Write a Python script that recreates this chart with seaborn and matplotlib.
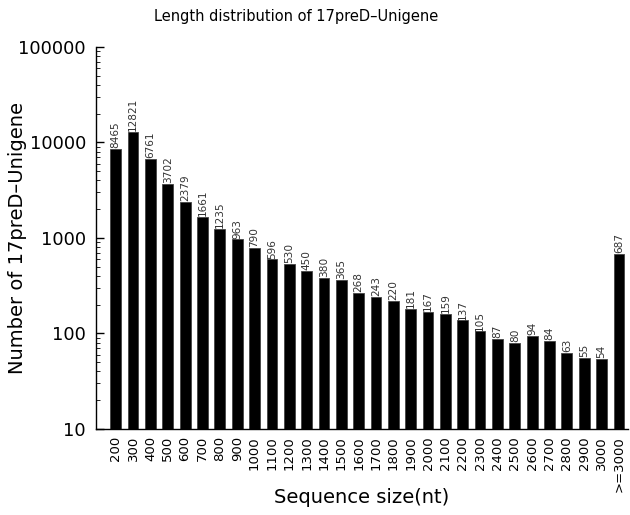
import matplotlib
matplotlib.use("Agg")
import matplotlib.pyplot as plt
import seaborn as sns
import pandas as pd
import numpy as np
from matplotlib.ticker import LogLocator, NullFormatter, FixedLocator

categories = [str(v) for v in range(200, 3001, 100)] + [">=3000"]
counts = [8465, 12821, 6761, 3702, 2379, 1661, 1235, 963, 790, 596, 530, 450, 380, 365,
          268, 243, 220, 181, 167, 159, 137, 105, 87, 80, 94, 84, 63, 55, 54, 687]
yticks = [10, 100, 1000, 10000, 100000]
title = "Length distribution of 17preD\u2013Unigene"
xlabel = "Sequence size(nt)"
ylabel = "Number of 17preD\u2013Unigene"

sns.set_style("white")
plt.rcParams['font.family'] = ['DejaVu Sans']
plt.rcParams.update({"text.color": "black", "axes.labelcolor": "black",
                     "xtick.color": "black", "ytick.color": "black"})

df = pd.DataFrame({"size": categories, "count": counts})

fig = plt.figure(figsize=(6.3, 5.15), dpi=100)
ax = fig.add_axes([0.152, 0.167, 0.845, 0.742])
sns.barplot(data=df, x="size", y="count", color="black", width=0.62,
            edgecolor="#444444", linewidth=0.6, ax=ax, log_scale=(False, True))
ax.set_yscale("log")
ax.set_ylim(10, 100000)
ax.set_xlim(-1.15, 29.53)

ax.yaxis.set_major_locator(FixedLocator(yticks))
ax.set_yticklabels([str(v) for v in yticks], fontsize=12.8)
ax.yaxis.set_minor_locator(LogLocator(base=10, subs=np.arange(2, 10)))
ax.yaxis.set_minor_formatter(NullFormatter())
ax.tick_params(axis="y", which="major", direction="in", length=6, width=1, left=True, pad=7)
ax.tick_params(axis="y", which="minor", direction="in", length=3, width=0.6, left=True)
ax.tick_params(axis="x", length=0, labelsize=9.5, pad=5)
for lbl in ax.get_xticklabels():
    lbl.set_rotation(90)

for s in ["top", "right"]:
    ax.spines[s].set_visible(False)
for s in ["left", "bottom"]:
    ax.spines[s].set_color("black")
    ax.spines[s].set_linewidth(1)

for i, v in enumerate(counts):
    ax.text(i, v * 1.02, str(v), rotation=90, ha="center", va="bottom",
            fontsize=7.6, color="#333333")

fig.text(296 / 630, 1 - 17 / 515, title, fontsize=10.5, ha="center", va="center")
ax.set_xlabel(xlabel, fontsize=14, va="center")
ax.xaxis.set_label_coords(0.5, -68 / 382)
ax.set_ylabel(ylabel, fontsize=14, va="center")
ax.yaxis.set_label_coords(-78 / 532, 0.5)

fig.savefig("out.png", dpi=100)
